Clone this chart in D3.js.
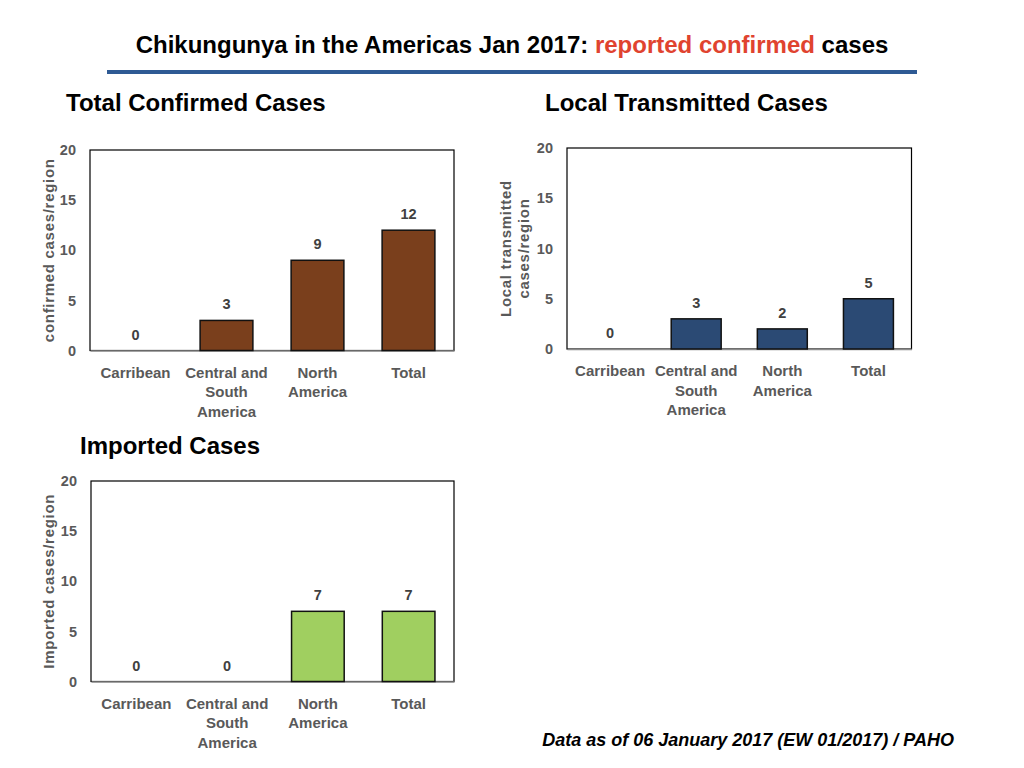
<!DOCTYPE html>
<html>
<head>
  <meta charset="UTF-8">
  <title>Chikungunya in the Americas Jan 2017</title>
  <script src="https://cdn.jsdelivr.net/npm/d3@7"></script>
  <style>
    body { margin: 0; background: #fff; }
    svg { display: block; font-family: "Liberation Sans", Arial, sans-serif; }
  </style>
</head>
<body>
<div id="chart"></div>
<script>
// categories (each entry split into the lines shown under the bar)
var categories = ["Carribean", "Central and South America", "North America", "Total"];
var categoryLines = [["Carribean"], ["Central and", "South", "America"], ["North", "America"], ["Total"]];

// series values
var confirmedCases = [0, 3, 9, 12];
var localCases = [0, 3, 2, 5];
var importedCases = [0, 0, 7, 7];

// y tick labels
var yTicks = [0, 5, 10, 15, 20];

var svg = d3.select("#chart").append("svg")
    .attr("width", 1024).attr("height", 768);

// page title
var title = svg.append("text")
    .attr("x", 512).attr("y", 53)
    .attr("text-anchor", "middle")
    .style("font-size", "24px").style("font-weight", "bold");
title.append("tspan").text("Chikungunya in the Americas Jan 2017: ");
title.append("tspan").attr("fill", "#e0432f").text("reported confirmed");
title.append("tspan").text(" cases");

svg.append("line")
  .attr("x1", 107).attr("x2", 917)
  .attr("y1", 72).attr("y2", 72)
  .attr("stroke", "#2e5a94").attr("stroke-width", 4);

svg.append("text")
  .attr("x", 954).attr("y", 746)
  .attr("text-anchor", "end")
  .style("font-size", "18px").style("font-weight", "bold").style("font-style", "italic")
  .text("Data as of 06 January 2017 (EW 01/2017) / PAHO");

function drawChart(cfg) {
  var g = svg.append("g");

  g.append("text")
    .attr("x", cfg.titleX).attr("y", cfg.titleY)
    .style("font-size", "24px").style("font-weight", "bold")
    .text(cfg.title);

  var x = d3.scaleBand()
    .domain(categories)
    .range([cfg.left, cfg.right])
    .paddingInner(0.42).paddingOuter(0.21);

  var y = d3.scaleLinear()
    .domain([0, 20])
    .range([cfg.bottom, cfg.top]);

  // plot frame
  g.append("rect")
    .attr("x", cfg.left).attr("y", cfg.top)
    .attr("width", cfg.right - cfg.left).attr("height", cfg.bottom - cfg.top)
    .attr("fill", "none").attr("stroke", "#000").attr("stroke-width", 1.2);

  // y axis
  var yAxis = g.append("g")
    .attr("transform", "translate(" + cfg.left + ",0)")
    .call(d3.axisLeft(y).tickValues(yTicks).tickSize(0).tickPadding(14));
  yAxis.select(".domain").remove();
  yAxis.selectAll("text")
    .attr("fill", "#595959")
    .style("font-size", "14.5px").style("font-weight", "bold")
    .style("font-family", "'Liberation Sans', Arial, sans-serif");

  // x axis
  var xAxis = g.append("g")
    .attr("transform", "translate(0," + cfg.bottom + ")")
    .call(d3.axisBottom(x).tickSize(0).tickFormat(""));
  xAxis.select(".domain").attr("stroke", "#8c8c8c").attr("stroke-width", 1.5);
  xAxis.selectAll(".tick").each(function(d, i) {
    var t = d3.select(this).append("text")
      .attr("y", 27)
      .attr("text-anchor", "middle")
      .attr("fill", "#595959")
      .style("font-size", "15px").style("font-weight", "bold")
      .style("font-family", "'Liberation Sans', Arial, sans-serif");
    categoryLines[i].forEach(function(line, k) {
      t.append("tspan").attr("x", 0).attr("dy", k === 0 ? 0 : 19.5).text(line);
    });
  });

  // bars
  g.selectAll(".bar")
    .data(cfg.values)
    .enter().append("rect")
    .attr("class", "bar")
    .attr("x", function(d, i) { return x(categories[i]); })
    .attr("width", x.bandwidth())
    .attr("y", function(d) { return y(d); })
    .attr("height", function(d) { return y(0) - y(d); })
    .attr("fill", cfg.color)
    .attr("stroke", "#111").attr("stroke-width", function(d) { return d > 0 ? 1.5 : 0; });

  // value labels
  g.selectAll(".val")
    .data(cfg.values)
    .enter().append("text")
    .attr("class", "val")
    .attr("x", function(d, i) { return x(categories[i]) + x.bandwidth() / 2; })
    .attr("y", function(d) { return y(d) - 11; })
    .attr("text-anchor", "middle")
    .attr("fill", "#404040")
    .style("font-size", "14.5px").style("font-weight", "bold")
    .text(function(d) { return d; });

  // y axis title
  var yt = g.append("text")
    .attr("transform", "translate(" + cfg.yTitleX + "," + ((cfg.top + cfg.bottom) / 2) + ") rotate(-90)")
    .attr("text-anchor", "middle")
    .attr("fill", "#595959")
    .style("font-size", "15px").style("font-weight", "bold")
    .style("letter-spacing", "0.7px");
  cfg.yTitle.forEach(function(line, k) {
    yt.append("tspan").attr("x", 0).attr("dy", k === 0 ? 0 : 17.5).text(line);
  });
}

drawChart({
  title: "Total Confirmed Cases", titleX: 66, titleY: 111,
  values: confirmedCases, color: "#7a3f1c",
  left: 90, right: 454, top: 150, bottom: 350.5,
  yTitle: ["confirmed cases/region"], yTitleX: 54
});

drawChart({
  title: "Local Transmitted Cases", titleX: 545, titleY: 111,
  values: localCases, color: "#2b4a74",
  left: 567, right: 911.5, top: 148, bottom: 349,
  yTitle: ["Local transmitted", "cases/region"], yTitleX: 511
});

drawChart({
  title: "Imported Cases", titleX: 80, titleY: 454,
  values: importedCases, color: "#a0cf60",
  left: 91, right: 454, top: 481, bottom: 681.5,
  yTitle: ["Imported cases/region"], yTitleX: 54
});
</script>
</body>
</html>
